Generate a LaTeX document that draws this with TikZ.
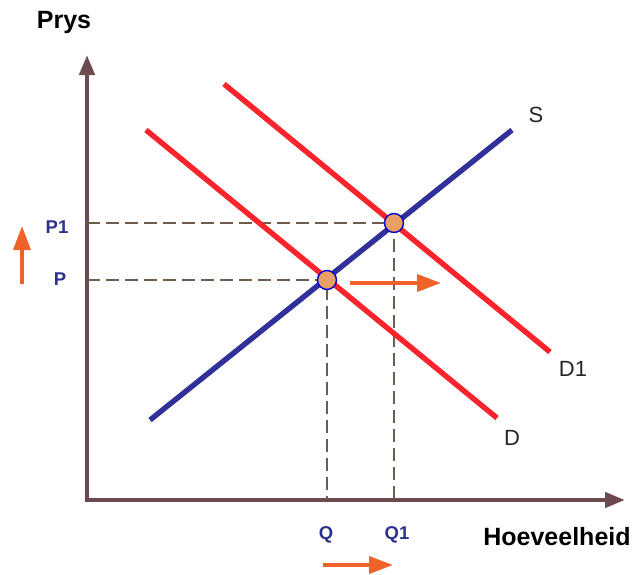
\documentclass[tikz,border=0pt]{standalone}
\usepackage{fontspec}
\setmainfont{Liberation Sans}
\usepackage{tikz}
\usetikzlibrary{calc,arrows.meta,positioning,shadows}
\definecolor{axisbrown}{RGB}{107,74,80}
\definecolor{dashbrown}{RGB}{110,92,76}
\definecolor{curvered}{RGB}{250,36,44}
\definecolor{curveblue}{RGB}{48,48,152}
\definecolor{labelblue}{RGB}{44,50,140}
\definecolor{shiftorange}{RGB}{240,98,42}
\definecolor{eqfill}{RGB}{232,160,100}
\tikzset{
  paxis/.style ={line width=4.4pt, axisbrown, -{Triangle[length=20pt,width=15pt]}},
  pguide/.style={line width=2pt, dashbrown, dash pattern=on 13pt off 6pt},
  pdemand/.style={line width=5.4pt, curvered},
  psupply/.style={line width=5.4pt, curveblue},
  peq/.style   ={circle, draw=blue!80!black, fill=eqfill, line width=1.4pt,
                 minimum size=19pt, inner sep=0pt},
  pshift/.style={line width=3.6pt, shiftorange, -{Triangle[length=24pt,width=17pt]},
                 drop shadow={shadow xshift=4pt, shadow yshift=-3pt, opacity=0.15}},
  pvalue/.style={font=\fontsize{18.5}{22}\selectfont\bfseries, labelblue},
  pcurve/.style={font=\fontsize{22}{26}\selectfont, black!85},
  ptitle/.style={font=\fontsize{25}{30}\selectfont\bfseries},
}
\begin{document}
\begin{tikzpicture}[x=1pt, y=-1pt]
  \useasboundingbox (0,0) rectangle (637,574);
  % axes
  \coordinate (o) at (87,500);
  \coordinate (ytop) at (87,55);
  \coordinate (xend) at (625,500);
  \draw[paxis] ($(o)+(0,2)$) -- (ytop);
  \draw[paxis] ($(o)+(-2,0)$) -- (xend);
  \node[ptitle] (prys) at (64,22) {Prys};
  \node[ptitle] (hoev) at (557,537) {Hoeveelheid};
  % curves
  \coordinate (s0) at (150,420);
  \coordinate (s1) at (512,130);
  \coordinate (d0) at (146,130);
  \coordinate (d1) at (497,418);
  \coordinate (e0) at (224,84);
  \coordinate (e1) at (550,352);
  % guides
  \coordinate (pa) at (87,280);
  \coordinate (p1a) at (87,223);
  \coordinate (qa) at (327,500);
  \coordinate (q1a) at (394,500);
  \draw[pguide] (pa) -- (327,280) -- (qa);
  \draw[pguide] (p1a) -- (394,223) -- (q1a);
  \draw[pdemand] (d0) -- (d1);
  \draw[pdemand] (e0) -- (e1);
  \draw[psupply] (s0) -- (s1);
  \node[peq] (eq) at (327,280) {};
  \node[peq] (eq1) at (394,223) {};
  \node[pcurve] (slab) at (536,115) {S};
  \node[pcurve] (dlab) at (512,438) {D};
  \node[pcurve] (d1lab) at (573,369) {D1};
  % values
  \node[pvalue] (p) at (60,279) {P};
  \node[pvalue] (pone) at (57,227) {P1};
  \node[pvalue] (q) at (326,535) {Q};
  \node[pvalue] (qone) at (397,535) {Q1};
  % shifts
  \coordinate (upa) at (22,284);
  \coordinate (upb) at (22,226);
  \draw[pshift] (upa) -- (upb);
  \coordinate (ra) at (350,283);
  \coordinate (rb) at (441,283);
  \draw[pshift] (ra) -- (rb);
  \coordinate (ba) at (323,565);
  \coordinate (bb) at (393,565);
  \draw[pshift] (ba) -- (bb);
\end{tikzpicture}
\end{document}
